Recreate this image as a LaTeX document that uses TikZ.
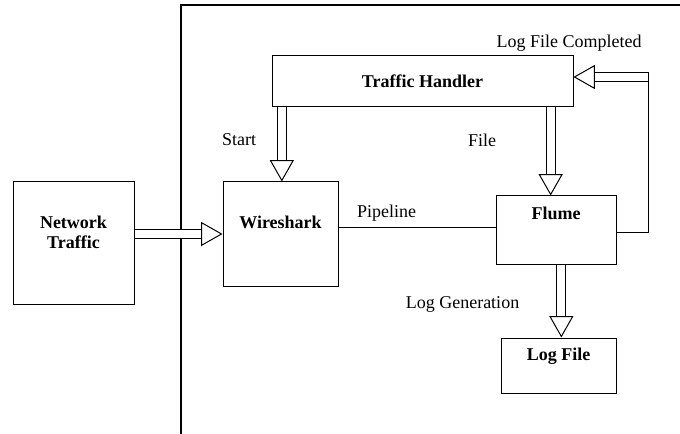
\documentclass[tikz,border=0pt]{standalone}
\usepackage{fontspec}
\setmainfont{Liberation Serif}
\usetikzlibrary{arrows.meta,positioning}
\begin{document}
\begin{tikzpicture}[x=0.75pt,y=-0.75pt,
    box/.style={draw, line width=0.75pt, inner sep=0pt},
    title/.style={font=\fontsize{13.5}{15}\selectfont\bfseries, align=center, inner sep=0pt},
    tag/.style={font=\fontsize{13.5}{15}\selectfont, inner sep=0pt},
    hollow/.style={double, double distance=6pt, line width=0.75pt,
      -{Triangle[open, length=16pt, width=18pt, line width=0.75pt]}}]
  \useasboundingbox (0,0) rectangle (680,434);

  % Boundary of the capture side
  \draw[line width=0.8pt] (181,434) |- (680,5);

  % Boxes
  \node[box, minimum width=90.75pt, minimum height=91.5pt] (nt) at (73.5,243) {};
  \node[box, minimum width=86.25pt, minimum height=78pt] (ws) at (280.5,234) {};
  \node[box, title, minimum width=225.75pt, minimum height=38.25pt] (th) at (422.5,81.5) {Traffic Handler};
  \node[box, minimum width=90pt, minimum height=51pt] (fl) at (556,230) {};
  \node[box, minimum width=86.25pt, minimum height=41.25pt] (lf) at (558.5,365.5) {};

  % Box titles
  \node[title] (nttext) at (73.5,232) {Network\\Traffic};
  \node[title] (wstext) at (280.5,222) {Wireshark};
  \node[title] (fltext) at (556,213) {Flume};
  \node[title] (lftext) at (558.5,356) {Log File};

  % Labels
  \node[tag] (complete) at (569,43) {Log File Completed};
  \node[tag] (start) at (239,140) {Start};
  \node[tag] (file) at (482,140) {File};
  \node[tag] (pipeline) at (386.5,213) {Pipeline};
  \node[tag] (loggen) at (462.5,304) {Log Generation};

  % Connectors
  \draw[hollow] (nt.east |- ws.west) -- (ws.west);
  \draw[hollow] ([xshift=1pt]ws.north |- th.south) -- ([xshift=1pt]ws.north);
  \draw[hollow] ([xshift=-4pt]fl.north |- th.south) -- ([xshift=-4pt]fl.north);
  \draw[hollow] ([xshift=4pt]fl.south) -- ([xshift=4pt]fl.south |- lf.north);
  \draw[line width=0.75pt] ([yshift=1.5pt]ws.east |- fl.west) -- ([yshift=1.5pt]fl.west);

  % Feedback to the handler
  \coordinate (fbtop) at (648,72.5);
  \coordinate (fbmid) at (648,77);
  \draw[line width=0.75pt] ([yshift=-2pt]fl.east) -| (fbtop);
  \draw[hollow] (fbmid) -- (fbmid -| th.east);
\end{tikzpicture}
\end{document}
